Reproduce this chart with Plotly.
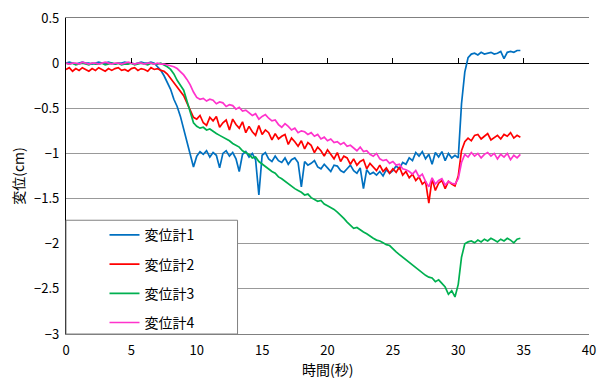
import plotly.graph_objects as go

# time axis (s), 0.25 s sampling
t = [i * 0.25 for i in range(140)]

s1 = [
    0.00, 0.01, 0.00, -0.01, 0.00, 0.01, 0.00, 0.00, -0.01, 0.00, 0.01, 0.00, 0.00, 0.01, 0.00, -0.01,
    0.00, 0.00, 0.01, 0.00, 0.00, -0.01, 0.00, 0.01, 0.00, 0.00, 0.01, 0.00,
    -0.04, -0.08, -0.14, -0.21, -0.29, -0.40, -0.48, -0.59, -0.73, -0.90, -1.04, -1.15,
    -1.03, -0.98, -1.01, -0.97, -1.04, -0.99, -1.02, -1.16, -1.00, -0.97, -1.03, -0.99,
    -1.06, -1.20, -1.01, -0.98, -1.04, -1.00, -1.07, -1.46,
    -1.02, -0.99, -1.06, -1.09, -1.03, -1.08, -1.10, -1.05, -1.12, -1.07, -1.05, -1.10,
    -1.37, -1.09, -1.13, -1.11, -1.08, -1.15, -1.17, -1.12, -1.16, -1.20, -1.13, -1.14,
    -1.19, -1.21, -1.17, -1.13, -1.19, -1.22, -1.16, -1.39, -1.18, -1.23, -1.21, -1.24,
    -1.20, -1.25, -1.18, -1.22, -1.19, -1.14, -1.17, -1.10, -1.12, -1.05, -1.08, -0.99,
    -1.03, -0.98, -1.06, -1.01, -1.12, -0.99, -1.04, -0.98, -1.08, -1.00, -1.05, -1.02,
    -1.05, -0.45, -0.10, 0.06, 0.10, 0.11, 0.09, 0.12, 0.10, 0.11, 0.12, 0.10,
    0.11, 0.13, 0.05, 0.12, 0.13, 0.12, 0.14, 0.14,
]

s2 = [
    -0.07, -0.05, -0.09, -0.06, -0.08, -0.05, -0.07, -0.09, -0.06, -0.08, -0.05, -0.07,
    -0.09, -0.06, -0.08, -0.06, -0.05, -0.08, -0.07, -0.09, -0.06, -0.05, -0.08, -0.06,
    -0.07, -0.09, -0.05, -0.07, -0.06, -0.08,
    -0.09, -0.12, -0.17, -0.22, -0.27, -0.31, -0.36, -0.44, -0.53, -0.60,
    -0.62, -0.58, -0.66, -0.69, -0.60, -0.64, -0.59, -0.71, -0.66, -0.63, -0.74, -0.62,
    -0.68, -0.72, -0.65, -0.77, -0.70, -0.76, -0.80, -0.69, -0.79, -0.74, -0.77, -0.85,
    -0.78, -0.84, -0.81, -0.79, -0.90, -0.83, -0.87, -0.92, -0.86, -0.95, -0.88, -0.91,
    -0.99, -0.93, -0.97, -1.03, -0.96, -1.01, -1.06, -0.99, -1.09, -1.03, -1.05, -1.12,
    -1.06, -1.13, -1.09, -1.07, -1.17, -1.11, -1.15, -1.19, -1.13, -1.20, -1.16, -1.22,
    -1.17, -1.21, -1.15, -1.24, -1.20, -1.27, -1.23, -1.30, -1.26, -1.34, -1.31, -1.55,
    -1.28, -1.41, -1.33, -1.30, -1.39, -1.31, -1.34, -1.36,
    -1.25, -0.97, -0.87, -0.83, -0.86, -0.80, -0.79, -0.84, -0.81, -0.78, -0.85, -0.82,
    -0.80, -0.84, -0.79, -0.81, -0.77, -0.83, -0.80, -0.82,
]

s3 = [
    0.00, -0.01, 0.00, -0.02, -0.01, 0.00, -0.01, -0.02, 0.00, -0.01, -0.01, 0.00,
    -0.02, -0.01, 0.00, -0.01, 0.00, -0.02, -0.01, -0.01, 0.00, -0.02, -0.01, 0.00,
    -0.01, -0.02, 0.00, -0.01, -0.01, 0.00, -0.02,
    -0.04, -0.07, -0.12, -0.19, -0.24, -0.30, -0.42, -0.55, -0.66,
    -0.70, -0.72, -0.71, -0.74, -0.73, -0.76, -0.78, -0.80, -0.82, -0.84, -0.86, -0.89,
    -0.91, -0.93, -0.97, -0.99, -1.01, -1.05, -1.04, -1.09, -1.12, -1.15, -1.18, -1.20,
    -1.22, -1.26, -1.28, -1.31, -1.33, -1.36, -1.39, -1.41, -1.43, -1.46, -1.45, -1.49,
    -1.51, -1.53, -1.52, -1.56, -1.58, -1.60, -1.62, -1.65, -1.68, -1.72, -1.76, -1.80,
    -1.83, -1.82, -1.85, -1.87, -1.89, -1.92, -1.94, -1.96, -1.97, -1.99, -2.01, -2.02,
    -2.06, -2.09, -2.12, -2.15, -2.18, -2.20, -2.23, -2.26, -2.29, -2.33, -2.35, -2.37,
    -2.38, -2.42, -2.40, -2.44, -2.48, -2.56, -2.52, -2.59,
    -2.45, -2.15, -2.00, -1.98, -1.97, -1.99, -1.96, -1.98, -1.95, -1.97, -1.94, -1.96,
    -1.98, -1.95, -1.97, -1.94, -1.96, -1.99, -1.95, -1.94,
]

s4 = [
    0.00, -0.01, 0.00, 0.00, -0.01, 0.01, 0.00, -0.01, 0.00, 0.00, -0.01, 0.00,
    0.01, 0.00, -0.01, 0.00, 0.00, -0.01, 0.00, 0.01, 0.00, -0.01, 0.00, 0.00,
    -0.01, 0.00, 0.00, -0.01, 0.00, -0.01, -0.01, -0.02, -0.03,
    -0.04, -0.06, -0.09, -0.13, -0.18, -0.24, -0.32,
    -0.38, -0.40, -0.39, -0.42, -0.40, -0.41, -0.45, -0.43, -0.44, -0.48, -0.46, -0.47,
    -0.51, -0.49, -0.53, -0.52, -0.55, -0.58, -0.56, -0.62, -0.59, -0.57, -0.61, -0.64,
    -0.63, -0.68, -0.71, -0.67, -0.70, -0.74, -0.72, -0.77, -0.75, -0.76, -0.79, -0.77,
    -0.81, -0.79, -0.84, -0.82, -0.86, -0.84, -0.88, -0.87, -0.90, -0.88, -0.92, -0.91,
    -0.94, -0.97, -0.93, -0.98, -0.97, -1.01, -1.03, -1.00, -1.06, -1.08, -1.07, -1.11,
    -1.09, -1.13, -1.12, -1.17, -1.18, -1.20, -1.23, -1.19, -1.26, -1.23, -1.31, -1.37,
    -1.27, -1.34, -1.30, -1.28, -1.35, -1.31, -1.33, -1.34,
    -1.28, -1.10, -1.01, -1.04, -0.99, -1.03, -1.00, -1.05, -1.01, -0.99, -1.03, -1.00,
    -1.06, -1.01, -1.04, -1.00, -1.07, -1.02, -1.05, -1.01,
]

names = ["変位計1", "変位計2", "変位計3", "変位計4"]
colors = ["#0070C0", "#FF0000", "#00B050", "#FF33CC"]
x_ticks = [0, 5, 10, 15, 20, 25, 30, 35, 40]
y_ticks = [0.5, 0, -0.5, -1, -1.5, -2, -2.5, -3]
x_title = "時間(秒)"
y_title = "変位(cm)"

FONT = "Noto Sans CJK JP"

fig = go.Figure()
for name, ys, c in zip(names, [s1, s2, s3, s4], colors):
    fig.add_trace(go.Scatter(x=t, y=ys, mode="lines", name=name, legendgroup=name,
                             line=dict(color=c, width=1.7)))

# invisible trace for the tick marks on the zero line
fig.add_trace(go.Scatter(x=[0], y=[0], xaxis="x2", mode="none", showlegend=False, hoverinfo="skip"))

fig.update_layout(
    width=604, height=381,
    margin=dict(l=66, r=8, t=17, b=47),
    paper_bgcolor="white", plot_bgcolor="white",
    font=dict(family=FONT, size=13, color="#000000"),
    xaxis=dict(range=[0, 40], tickvals=x_ticks, ticks="outside", ticklen=4,
               tickcolor="rgba(0,0,0,0)", showgrid=False, zeroline=False,
               showline=True, linecolor="#808080", linewidth=1, mirror=True,
               tickfont=dict(size=13)),
    xaxis2=dict(range=[0, 40], overlaying="x", anchor="free", position=3 / 3.5, side="top",
                tickvals=x_ticks[1:-1], ticks="outside", ticklen=5, tickcolor="#000000",
                showticklabels=False, showgrid=False, zeroline=False, showline=False),
    yaxis=dict(range=[-3, 0.5], tickvals=y_ticks, ticks="outside", ticklen=3,
               tickcolor="rgba(0,0,0,0)", showgrid=True,
               gridcolor="#999999", gridwidth=1, zeroline=True, zerolinecolor="#000000",
               zerolinewidth=1.3, showline=True, linecolor="#000000", linewidth=1.3,
               title=dict(text=y_title, font=dict(size=14), standoff=6),
               tickfont=dict(size=13)),
    legend=dict(x=0.0736, y=0.363, xanchor="left", yanchor="top", bgcolor="rgba(0,0,0,0)",
                borderwidth=0, traceorder="grouped", tracegroupgap=8,
                font=dict(size=14, family=FONT)),
    shapes=[dict(type="rect", xref="paper", yref="paper", x0=0, x1=0.328, y0=0, y1=0.36,
                 fillcolor="white", line=dict(color="#808080", width=1), layer="above")],
    annotations=[dict(text=x_title, xref="paper", yref="paper", x=0.5, y=-0.11,
                      xanchor="center", yanchor="middle", showarrow=False,
                      font=dict(size=14, family=FONT))],
    showlegend=True,
)

fig.write_html("out.html")
